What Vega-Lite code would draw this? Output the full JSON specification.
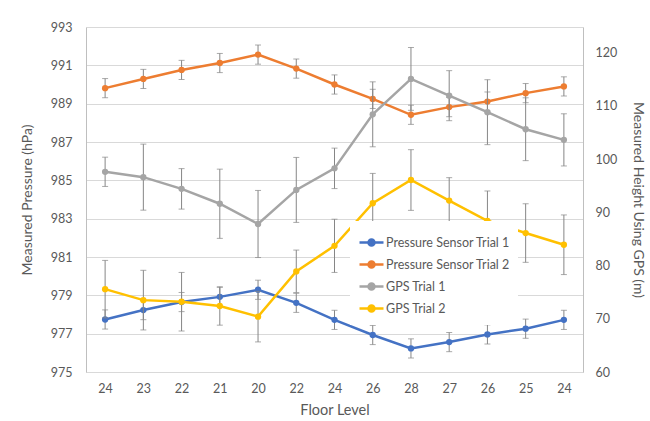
{
  "$schema": "https://vega.github.io/schema/vega-lite/v6.json",
  "autosize": "none",
  "width": 497,
  "height": 345,
  "padding": {"left": 86, "top": 27, "right": 67, "bottom": 49},
  "background": "white",
  "config": {
    "view": {"stroke": null},
    "font": "Lato",
    "axis": {"labelColor": "#595959", "titleColor": "#595959", "labelFontSize": 12.5, "titleFontSize": 14, "titleFontWeight": "normal", "domainColor": "#bfbfbf", "gridColor": "#d9d9d9", "ticks": false}
  },
  "data": {"values": [
    {"pt": "p01_24", "series": "Pressure Sensor Trial 1", "axis": "P", "value": 977.74, "err": 0.5},
    {"pt": "p02_23", "series": "Pressure Sensor Trial 1", "axis": "P", "value": 978.23, "err": 0.5},
    {"pt": "p03_22", "series": "Pressure Sensor Trial 1", "axis": "P", "value": 978.65, "err": 0.5},
    {"pt": "p04_21", "series": "Pressure Sensor Trial 1", "axis": "P", "value": 978.92, "err": 0.5},
    {"pt": "p05_20", "series": "Pressure Sensor Trial 1", "axis": "P", "value": 979.29, "err": 0.5},
    {"pt": "p06_22", "series": "Pressure Sensor Trial 1", "axis": "P", "value": 978.61, "err": 0.5},
    {"pt": "p07_24", "series": "Pressure Sensor Trial 1", "axis": "P", "value": 977.72, "err": 0.5},
    {"pt": "p08_26", "series": "Pressure Sensor Trial 1", "axis": "P", "value": 976.93, "err": 0.5},
    {"pt": "p09_28", "series": "Pressure Sensor Trial 1", "axis": "P", "value": 976.23, "err": 0.5},
    {"pt": "p10_27", "series": "Pressure Sensor Trial 1", "axis": "P", "value": 976.56, "err": 0.5},
    {"pt": "p11_26", "series": "Pressure Sensor Trial 1", "axis": "P", "value": 976.96, "err": 0.5},
    {"pt": "p12_25", "series": "Pressure Sensor Trial 1", "axis": "P", "value": 977.26, "err": 0.5},
    {"pt": "p13_24", "series": "Pressure Sensor Trial 1", "axis": "P", "value": 977.72, "err": 0.5},
    {"pt": "p01_24", "series": "Pressure Sensor Trial 2", "axis": "P", "value": 989.81, "err": 0.5},
    {"pt": "p02_23", "series": "Pressure Sensor Trial 2", "axis": "P", "value": 990.29, "err": 0.5},
    {"pt": "p03_22", "series": "Pressure Sensor Trial 2", "axis": "P", "value": 990.76, "err": 0.5},
    {"pt": "p04_21", "series": "Pressure Sensor Trial 2", "axis": "P", "value": 991.12, "err": 0.5},
    {"pt": "p05_20", "series": "Pressure Sensor Trial 2", "axis": "P", "value": 991.56, "err": 0.5},
    {"pt": "p06_22", "series": "Pressure Sensor Trial 2", "axis": "P", "value": 990.83, "err": 0.5},
    {"pt": "p07_24", "series": "Pressure Sensor Trial 2", "axis": "P", "value": 990.0, "err": 0.5},
    {"pt": "p08_26", "series": "Pressure Sensor Trial 2", "axis": "P", "value": 989.25, "err": 0.5},
    {"pt": "p09_28", "series": "Pressure Sensor Trial 2", "axis": "P", "value": 988.42, "err": 0.5},
    {"pt": "p10_27", "series": "Pressure Sensor Trial 2", "axis": "P", "value": 988.82, "err": 0.5},
    {"pt": "p11_26", "series": "Pressure Sensor Trial 2", "axis": "P", "value": 989.11, "err": 0.5},
    {"pt": "p12_25", "series": "Pressure Sensor Trial 2", "axis": "P", "value": 989.55, "err": 0.5},
    {"pt": "p13_24", "series": "Pressure Sensor Trial 2", "axis": "P", "value": 989.9, "err": 0.5},
    {"pt": "p01_24", "series": "GPS Trial 1", "axis": "G", "value": 97.6, "err": 2.75},
    {"pt": "p02_23", "series": "GPS Trial 1", "axis": "G", "value": 96.6, "err": 6.2},
    {"pt": "p03_22", "series": "GPS Trial 1", "axis": "G", "value": 94.4, "err": 3.8},
    {"pt": "p04_21", "series": "GPS Trial 1", "axis": "G", "value": 91.6, "err": 6.5},
    {"pt": "p05_20", "series": "GPS Trial 1", "axis": "G", "value": 87.8, "err": 6.3},
    {"pt": "p06_22", "series": "GPS Trial 1", "axis": "G", "value": 94.2, "err": 6.1},
    {"pt": "p07_24", "series": "GPS Trial 1", "axis": "G", "value": 98.25, "err": 3.8},
    {"pt": "p08_26", "series": "GPS Trial 1", "axis": "G", "value": 108.4, "err": 6.1},
    {"pt": "p09_28", "series": "GPS Trial 1", "axis": "G", "value": 115.05, "err": 5.9},
    {"pt": "p10_27", "series": "GPS Trial 1", "axis": "G", "value": 111.9, "err": 4.7},
    {"pt": "p11_26", "series": "GPS Trial 1", "axis": "G", "value": 108.8, "err": 6.1},
    {"pt": "p12_25", "series": "GPS Trial 1", "axis": "G", "value": 105.6, "err": 5.9},
    {"pt": "p13_24", "series": "GPS Trial 1", "axis": "G", "value": 103.6, "err": 4.9},
    {"pt": "p01_24", "series": "GPS Trial 2", "axis": "G", "value": 75.56, "err": 5.4},
    {"pt": "p02_23", "series": "GPS Trial 2", "axis": "G", "value": 73.5, "err": 5.6},
    {"pt": "p03_22", "series": "GPS Trial 2", "axis": "G", "value": 73.2, "err": 5.5},
    {"pt": "p04_21", "series": "GPS Trial 2", "axis": "G", "value": 72.4, "err": 3.6},
    {"pt": "p05_20", "series": "GPS Trial 2", "axis": "G", "value": 70.4, "err": 4.75},
    {"pt": "p06_22", "series": "GPS Trial 2", "axis": "G", "value": 78.9, "err": 4.0},
    {"pt": "p07_24", "series": "GPS Trial 2", "axis": "G", "value": 83.7, "err": 5.0},
    {"pt": "p08_26", "series": "GPS Trial 2", "axis": "G", "value": 91.7, "err": 5.6},
    {"pt": "p09_28", "series": "GPS Trial 2", "axis": "G", "value": 96.06, "err": 5.7},
    {"pt": "p10_27", "series": "GPS Trial 2", "axis": "G", "value": 92.2, "err": 4.3},
    {"pt": "p11_26", "series": "GPS Trial 2", "axis": "G", "value": 88.4, "err": 5.6},
    {"pt": "p12_25", "series": "GPS Trial 2", "axis": "G", "value": 86.1, "err": 5.5},
    {"pt": "p13_24", "series": "GPS Trial 2", "axis": "G", "value": 83.9, "err": 5.6}
  ]},
  "encoding": {
    "x": {"field": "pt", "type": "ordinal", "sort": "ascending", "scale": {"type": "point", "padding": 0.5},
      "axis": {"title": "Floor Level", "labelExpr": "split(datum.label, '_')[1]", "labelAngle": 0, "labelPadding": 10, "titlePadding": 9, "domainColor": "#d9d9d9", "titleFontSize": 14.5}}
  },
  "layer": [
    {
      "transform": [{"filter": "datum.axis == 'P'"}],
      "encoding": {
        "y": {"field": "value", "type": "quantitative", "scale": {"domain": [975, 993], "nice": false, "zero": false},
          "axis": {"title": "Measured Pressure (hPa)", "orient": "left", "values": [975, 977, 979, 981, 983, 985, 987, 989, 991, 993], "grid": true, "labelPadding": 14, "titlePadding": 16}}
      },
      "layer": [
        {"mark": {"type": "errorbar", "ticks": {"size": 6}, "color": "#868686", "thickness": 1}, "encoding": {"yError": {"field": "err"}}},
        {"mark": {"type": "line", "strokeWidth": 2.5}, "encoding": {"color": {"field": "series", "type": "nominal"}}},
        {"mark": {"type": "point", "filled": true, "size": 40, "opacity": 1}, "encoding": {"color": {"field": "series", "type": "nominal"}}}
      ]
    },
    {
      "transform": [{"filter": "datum.axis == 'G'"}],
      "encoding": {
        "y": {"field": "value", "type": "quantitative", "scale": {"domain": [60, 124.8], "nice": false, "zero": false},
          "axis": {"title": "Measured Height Using GPS (m)", "orient": "right", "values": [60, 70, 80, 90, 100, 110, 120], "grid": false, "labelPadding": 12, "titlePadding": 14}}
      },
      "layer": [
        {"mark": {"type": "errorbar", "ticks": {"size": 6}, "color": "#868686", "thickness": 1}, "encoding": {"yError": {"field": "err"}}},
        {"mark": {"type": "line", "strokeWidth": 2.5}, "encoding": {"color": {"field": "series", "type": "nominal"}}},
        {"mark": {"type": "point", "filled": true, "size": 40, "opacity": 1}, "encoding": {"color": {"field": "series", "type": "nominal",
          "scale": {"domain": ["Pressure Sensor Trial 1", "Pressure Sensor Trial 2", "GPS Trial 1", "GPS Trial 2"], "range": ["#4472C4", "#ED7D31", "#A5A5A5", "#FFC000"]},
          "legend": {"title": null, "orient": "none", "legendX": 264, "legendY": 194, "fillColor": "white", "padding": 8, "labelFontSize": 12.5, "labelColor": "#595959", "labelOffset": 1, "rowPadding": -2,
            "symbolType": "M-1,0H1M0.25,0A0.25,0.25,0,1,1,-0.25,0A0.25,0.25,0,1,1,0.25,0Z", "symbolSize": 576, "symbolStrokeWidth": 2.5}}}}
      ]
    }
  ],
  "resolve": {"scale": {"y": "independent"}}
}
